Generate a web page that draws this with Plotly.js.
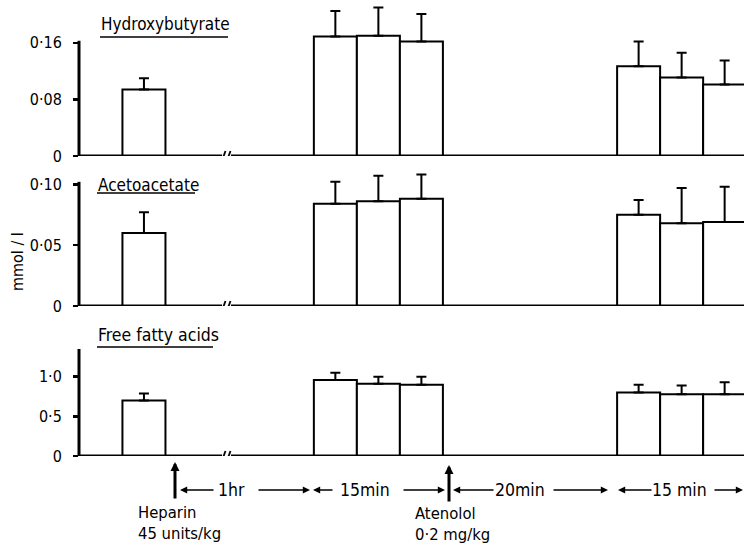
<!DOCTYPE html>
<html><head><meta charset="utf-8">
<script src="https://cdn.plot.ly/plotly-3.0.1.min.js"></script>
<style>html,body{margin:0;padding:0;background:#fff}#chart{width:744px;height:543px}</style>
</head><body><div id="chart"></div>
<script>
// ---- data ----
const sampleSlot = [1, 5.45, 6.45, 7.45, 12.5, 13.5, 14.5];
const hydroxybutyrate = [0.094, 0.169, 0.170, 0.162, 0.127, 0.111, 0.101];
const hydroxybutyrateSem = [0.016, 0.036, 0.040, 0.039, 0.035, 0.035, 0.034];
const acetoacetate = [0.060, 0.084, 0.086, 0.088, 0.075, 0.068, 0.069];
const acetoacetateSem = [0.017, 0.018, 0.021, 0.020, 0.012, 0.029, 0.029];
const freeFattyAcids = [0.70, 0.96, 0.91, 0.90, 0.80, 0.78, 0.78];
const freeFattyAcidsSem = [0.09, 0.09, 0.09, 0.10, 0.10, 0.11, 0.15];
const hbTicks = [0, 0.08, 0.16], hbTickText = ['0', '0·08', '0·16'];
const acTicks = [0, 0.05, 0.10], acTickText = ['0', '0·05', '0·10'];
const ffaTicks = [0, 0.5, 1.0], ffaTickText = ['0', '0·5', '1·0'];

// ---- helpers ----
const W = 744, H = 543, L = 79;
const px = x => (x - L) / (W - L);
const py = y => 1 - y / H;
const FONT = 'DejaVu Sans Condensed, DejaVu Sans, sans-serif';

function barTrace(vals, sem, xa, ya) {
  return {
    type: 'bar', x: sampleSlot, y: vals, xaxis: xa, yaxis: ya, width: 1,
    marker: {color: 'white', line: {color: 'black', width: 2}},
    error_y: {type: 'data', symmetric: false, array: sem, arrayminus: sem.map(() => 0),
              color: 'black', thickness: 2, width: 5},
    hoverinfo: 'skip', showlegend: false
  };
}

const data = [
  barTrace(hydroxybutyrate, hydroxybutyrateSem, 'x', 'y'),
  barTrace(acetoacetate, acetoacetateSem, 'x2', 'y2'),
  barTrace(freeFattyAcids, freeFattyAcidsSem, 'x3', 'y3')
];

const xRange = [-0.51, 14.95];
const xa = a => Object.assign({range: xRange, visible: false, fixedrange: true}, a || {});
const ya = (dom, rng, tv, tt) => ({
  domain: dom, range: rng, tickvals: tv, ticktext: tt, showgrid: false, zeroline: false,
  showline: false, ticks: 'outside', ticklen: 5, tickwidth: 2.5, tickcolor: 'black',
  ticklabelstandoff: 8, tickfont: {family: FONT, size: 16, color: 'black'}, fixedrange: true
});

const shapes = [];
const panels = [
  {yref: 'y', top: 0.163},
  {yref: 'y2', top: 0.102},
  {yref: 'y3', top: 1.35}
];
panels.forEach(p => {
  shapes.push({type: 'line', xref: 'paper', yref: p.yref, x0: 0, x1: 0, y0: 0, y1: p.top,
               line: {color: 'black', width: 3}});
  shapes.push({type: 'line', xref: 'paper', yref: p.yref, x0: px(78), x1: px(222), y0: 0, y1: 0,
               line: {color: 'black', width: 3}});
  shapes.push({type: 'line', xref: 'paper', yref: p.yref, x0: px(231), x1: 1, y0: 0, y1: 0,
               line: {color: 'black', width: 3}});
  [221.5, 226.5].forEach(bx => {
    shapes.push({type: 'line', xref: 'paper', yref: p.yref, ysizemode: 'pixel', yanchor: 0,
                 x0: px(bx), x1: px(bx + 4), y0: -6, y1: 5, line: {color: 'black', width: 1.8}});
  });
});
[[100, 228, 37], [97, 195, 193], [97, 213, 347]].forEach(u => {
  shapes.push({type: 'line', xref: 'paper', yref: 'paper', x0: px(u[0]), x1: px(u[1]),
               y0: py(u[2]), y1: py(u[2]), line: {color: 'black', width: 1.5}});
});

const txt = (t, x, y, anchor, size, extra) => Object.assign({
  text: t, xref: 'paper', yref: 'paper', x: px(x), y: py(y), xanchor: anchor || 'left',
  yanchor: 'middle', showarrow: false, font: {family: FONT, size: size || 16.5, color: 'black'}
}, extra || {});
const arrow = (hx, hy, ax, ay, w, s) => ({
  text: '', xref: 'paper', yref: 'paper', x: px(hx), y: py(hy), ax: ax, ay: ay,
  showarrow: true, arrowhead: 2, arrowwidth: w, arrowsize: s, arrowcolor: 'black', standoff: 0
});

const annotations = [
  txt('Hydroxybutyrate', 99, 24, 'left', 17),
  txt('Acetoacetate', 96, 185, 'left', 17),
  txt('Free fatty acids', 96, 335, 'left', 17.5),
  txt('mmol / l', 17, 262, 'center', 16, {textangle: -90}),
  txt('Heparin<br>45 units/kg', 136, 501, 'left', 16.5, {yanchor: 'top', align: 'left'}),
  txt('Atenolol<br>0·2 mg/kg', 413, 502, 'left', 16.5, {yanchor: 'top', align: 'left'}),
  txt('1hr', 231, 490, 'center', 17.5),
  txt('15min', 365, 490, 'center', 17.5),
  txt('20min', 520, 490, 'center', 17.5),
  txt('15 min', 679, 490, 'center', 17.5),
  arrow(175, 462, 0, 38, 3, 0.6),
  arrow(449, 465, 0, 38, 3, 0.6),
  arrow(180, 490, 35, 0, 1.6, 0.9),
  arrow(310, 490, -53, 0, 1.6, 0.9),
  arrow(313, 490, 21, 0, 1.6, 0.9),
  arrow(445, 490, -43, 0, 1.6, 0.9),
  arrow(453, 490, 42, 0, 1.6, 0.9),
  arrow(608, 490, -56, 0, 1.6, 0.9),
  arrow(618, 490, 35, 0, 1.6, 0.9),
  arrow(743, 490, -30, 0, 1.6, 0.9)
];

const layout = {
  width: W, height: H, margin: {l: L, r: 0, t: 0, b: 0},
  paper_bgcolor: 'white', plot_bgcolor: 'rgba(0,0,0,0)',
  font: {family: FONT, color: 'black'},
  xaxis: xa({anchor: 'y'}), xaxis2: xa({anchor: 'y2'}), xaxis3: xa({anchor: 'y3'}),
  yaxis: ya([py(156), py(4)], [0, 0.215], hbTicks, hbTickText),
  yaxis2: ya([py(306), py(166)], [0, 0.115], acTicks, acTickText),
  yaxis3: ya([py(456), py(349)], [0, 1.35], ffaTicks, ffaTickText),
  shapes: shapes, annotations: annotations, showlegend: false
};

Plotly.newPlot('chart', data, layout, {staticPlot: true, displayModeBar: false});
</script>
</body></html>
